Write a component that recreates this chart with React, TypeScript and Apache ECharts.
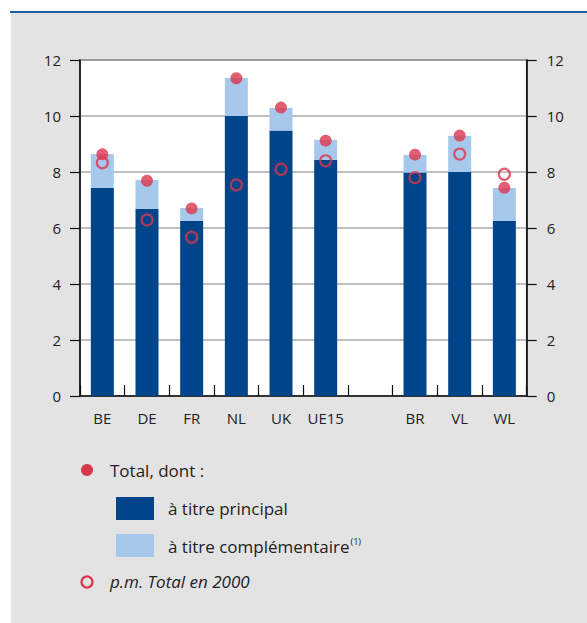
import React, { useEffect, useRef } from "react";
import * as echarts from "echarts";

const categories = ["BE", "DE", "FR", "NL", "UK", "UE15", "", "BR", "VL", "WL"];
const principal = [7.44, 6.68, 6.25, 10.0, 9.48, 8.43, null, 7.98, 8.0, 6.25];
const complementaire = [1.2, 1.03, 0.46, 1.36, 0.81, 0.72, null, 0.63, 1.29, 1.18];
const total = [8.63, 7.69, 6.7, 11.35, 10.3, 9.12, null, 8.62, 9.3, 7.44];
const total2000 = [8.33, 6.29, 5.67, 7.54, 8.1, 8.4, null, 7.8, 8.64, 7.92];
const yTicks = [0, 2, 4, 6, 8, 10, 12];

const DARK = "#00458a";
const LIGHT = "#a6c8ea";
const RED = "#dc364f";
const FONT = "'Open Sans', 'Noto Sans', sans-serif";

export default function App() {
  const ref = useRef<HTMLDivElement>(null);
  useEffect(() => {
    if (!ref.current) return;
    const chart = echarts.init(ref.current, null, { renderer: "svg" });
    const yAxisBase = {
      type: "value",
      min: yTicks[0],
      max: yTicks[yTicks.length - 1],
      interval: 2,
      axisLine: { show: true, lineStyle: { color: "#111", width: 1.5 } },
      axisTick: { show: true, length: 10, lineStyle: { color: "#111", width: 1.2 } },
      splitLine: { show: true, lineStyle: { color: "#ababab", width: 1.5 } },
      axisLabel: { color: "#222", fontSize: 15, fontFamily: FONT },
    };
    chart.setOption({
      animation: false,
      backgroundColor: "#ffffff",
      textStyle: { fontFamily: FONT },
      graphic: [
        { type: "rect", z: -10, shape: { x: 11, y: 13, width: 576, height: 610 }, style: { fill: "#e3e3e3" } },
        { type: "rect", z: -9, shape: { x: 10, y: 11, width: 577, height: 2 }, style: { fill: "#1f5ea3" } },
        { type: "circle", shape: { cx: 87, cy: 470, r: 6 }, style: { fill: RED } },
        { type: "text", x: 110, y: 470, style: { text: "Total, dont :", fontSize: 17, fill: "#222", fontFamily: FONT, verticalAlign: "middle" } },
        { type: "rect", shape: { x: 116, y: 497, width: 38, height: 23 }, style: { fill: DARK } },
        { type: "text", x: 168, y: 508, style: { text: "à titre principal", fontSize: 17, fill: "#222", fontFamily: FONT, verticalAlign: "middle" } },
        { type: "rect", shape: { x: 116, y: 534, width: 38, height: 23 }, style: { fill: LIGHT } },
        {
          type: "text", x: 168, y: 546,
          style: {
            text: "{a|à titre complémentaire}{s|(1)}",
            fill: "#222", fontFamily: FONT, verticalAlign: "middle",
            rich: {
              a: { fontSize: 17, fontFamily: FONT, fill: "#222" },
              s: { fontSize: 9, fontFamily: FONT, fill: "#222", verticalAlign: "top", padding: [0, 0, 10, 1] },
            },
          },
        },
        { type: "circle", shape: { cx: 87, cy: 582, r: 5.5 }, style: { fill: "none", stroke: RED, lineWidth: 2.2 } },
        { type: "text", x: 110, y: 581, style: { text: "p.m. Total en 2000", fontSize: 17, fontStyle: "italic", fill: "#222", fontFamily: FONT, verticalAlign: "middle" } },
      ],
      grid: {
        left: 80, top: 60, width: 446.7, height: 336,
        show: true, backgroundColor: "#ffffff", borderColor: "#444", borderWidth: 1.5,
      },
      xAxis: {
        type: "category",
        data: categories,
        axisLine: { show: true, lineStyle: { color: "#111", width: 1.5 } },
        axisTick: { show: true, inside: true, interval: 0, length: 11, alignWithLabel: false, lineStyle: { color: "#111", width: 1.2 } },
        axisLabel: { color: "#222", fontSize: 15, margin: 14, interval: 0, fontFamily: FONT },
        splitLine: { show: false },
      },
      yAxis: [
        { ...yAxisBase, position: "left", axisLabel: { ...yAxisBase.axisLabel, margin: 19 } },
        { ...yAxisBase, position: "right", splitLine: { show: false }, axisLabel: { ...yAxisBase.axisLabel, margin: 20 } },
      ],
      series: [
        { name: "à titre principal", type: "bar", stack: "t", data: principal, barWidth: 23, itemStyle: { color: DARK } },
        { name: "à titre complémentaire", type: "bar", stack: "t", data: complementaire, barWidth: 23, itemStyle: { color: LIGHT } },
        {
          name: "p.m. Total en 2000", type: "scatter", data: total2000, symbol: "circle", symbolSize: 11, z: 5,
          itemStyle: { color: "rgba(0,0,0,0)", borderColor: RED, borderWidth: 2.2 },
        },
        { name: "Total", type: "scatter", data: total, symbol: "circle", symbolSize: 12, z: 6, itemStyle: { color: RED } },
      ],
    });
    return () => chart.dispose();
  }, []);
  return (
    <div
      ref={ref}
      style={{ position: "fixed", left: 0, top: 0, width: 587, height: 623 }}
    />
  );
}
